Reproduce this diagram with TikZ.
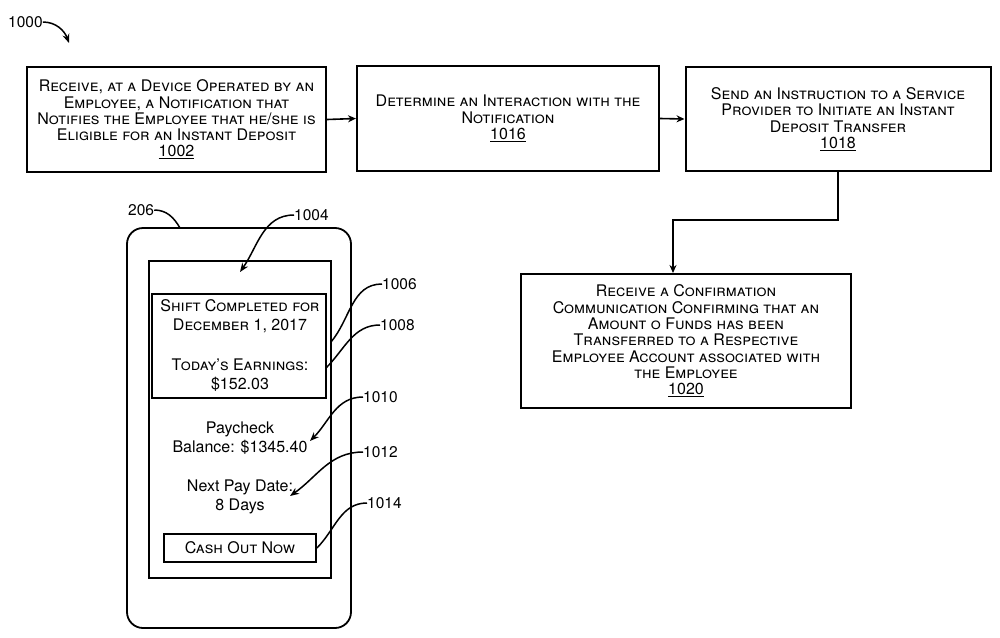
\documentclass[tikz,border=0pt]{standalone}
\usepackage{fontspec}
\setmainfont{TeX Gyre Heros}
\usetikzlibrary{arrows.meta}
\begin{document}
\begin{tikzpicture}[x=1pt,y=-1pt,
  every node/.style={font=\fontsize{16}{16.3}\selectfont, inner sep=0pt},
  stepbox/.style={draw, line width=2pt, align=center, font=\fontsize{16}{16.3}\selectfont\scshape},
  flow/.style={line width=1.6pt, -{Stealth[length=8pt,width=7pt]}},
  lead/.style={line width=1.5pt},
  leadarr/.style={line width=1.5pt, -{Stealth[length=9pt,width=7pt]}},
  lbl/.style={font=\fontsize{15.5}{17}\selectfont, anchor=west},
  scr/.style={align=center, font=\fontsize{16}{19.5}\selectfont}]
\useasboundingbox (0,0) rectangle (1000,637);
% flow boxes
\node[stepbox, minimum width=299pt, minimum height=105pt] (b1002) at (176.5,119.5)
  {Receive, at a Device Operated by an\\Employee, a Notification that\\Notifies the Employee that he/she is\\Eligible for an Instant Deposit\\\upshape\underline{1002}};
\node[stepbox, minimum width=302pt, minimum height=105pt] (b1016) at (508,118.5)
  {Determine an Interaction with the\\Notification\\\upshape\underline{1016}};
\node[stepbox, minimum width=305pt, minimum height=104pt] (b1018) at (838,119)
  {Send an Instruction to a Service\\Provider to Initiate an Instant\\Deposit Transfer\\\upshape\underline{1018}};
\node[stepbox, minimum width=330pt, minimum height=134pt] (b1020) at (686,341)
  {Receive a Confirmation\\Communication Confirming that an\\Amount o Funds has been\\Transferred to a Respective\\Employee Account associated with\\the Employee\\\upshape\underline{1020}};
\coordinate (c1) at (673,220);
\draw[flow] (b1002.east) -- (b1016.west);
\draw[flow] (b1016.east) -- (b1018.west);
\draw[flow] (b1018.south) |- (c1) -- (c1 |- b1020.north);
% 1000 label
\node[lbl] (n1000) at (8,22) {1000};
\coordinate (t1000) at (69,43);
\draw[leadarr] (n1000.east) to[out=0,in=110] (t1000);
% phone
\draw[line width=1.8pt, rounded corners=16pt] (127,228) rectangle (351,628);
\draw[line width=1.8pt] (149,261) rectangle (331,578);
\draw[line width=1.8pt] (152,294) rectangle (326,398);
\node[scr] (shift) at (240,316) {\scshape Shift Completed for\\\scshape December 1, 2017};
\node[scr] (earn) at (240,375) {\scshape Today's Earnings:\\\$152.03};
\node[scr] (pay) at (240,438) {Paycheck\\Balance: \$1345.40};
\node[scr] (next) at (240,497) {Next Pay Date:\\8 Days};
\node[draw, line width=1.8pt, minimum width=152pt, minimum height=28pt, font=\fontsize{16}{17}\selectfont\scshape] (cash) at (240,548) {Cash Out Now};
% reference labels
\node[lbl] (n206) at (128,210) {206};
\coordinate (t206) at (180,228);
\draw[lead] (n206.east) to[out=0,in=120] (t206);
\node[lbl] (n1004) at (294,215) {1004};
\coordinate (t1004) at (240,272);
\draw[leadarr] (n1004.west) to[out=180,in=55] (t1004);
\node[lbl] (n1006) at (382,284) {1006};
\coordinate (t1006) at (331,342);
\draw[lead] (n1006.west) to[out=180,in=50] (t1006);
\node[lbl] (n1008) at (380,325) {1008};
\coordinate (t1008) at (326,368);
\draw[lead] (n1008.west) to[out=180,in=45] (t1008);
\node[lbl] (n1010) at (363,397) {1010};
\coordinate (t1010) at (310,441);
\draw[leadarr] (n1010.west) to[out=180,in=45] (t1010);
\node[lbl] (n1012) at (363,452) {1012};
\coordinate (t1012) at (290,496);
\draw[leadarr] (n1012.west) to[out=180,in=35] (t1012);
\node[lbl] (n1014) at (367,503) {1014};
\draw[lead] (n1014.west) to[out=180,in=45] (cash.east);
\end{tikzpicture}
\end{document}
